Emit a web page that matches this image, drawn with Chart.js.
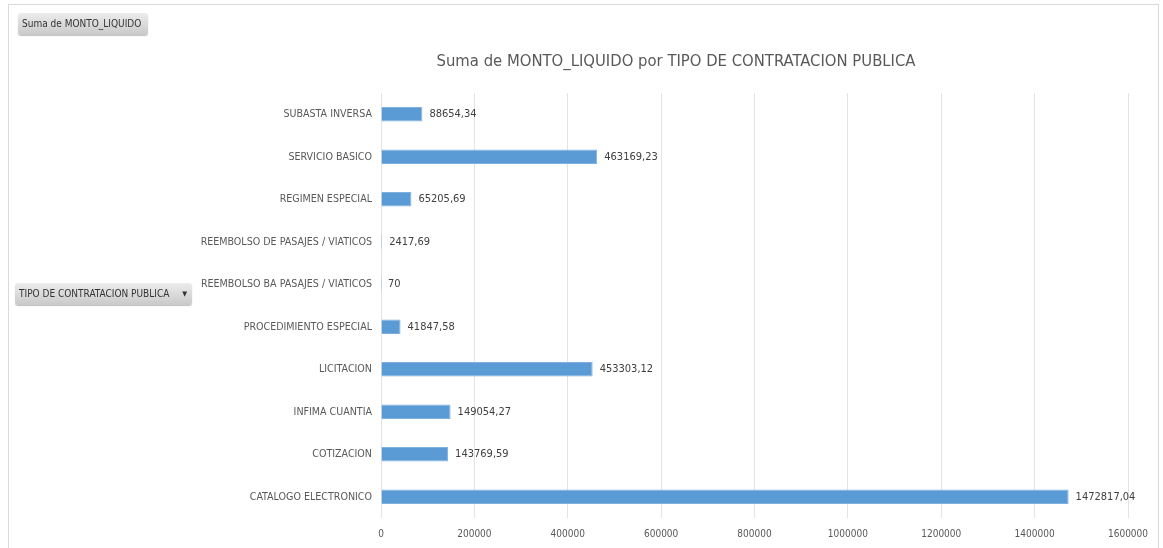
<!DOCTYPE html>
<html lang="es">
<head>
    <meta charset="UTF-8">
    <title>Suma de MONTO_LIQUIDO por TIPO DE CONTRATACION PUBLICA</title>
    <script src="https://cdn.jsdelivr.net/npm/chart.js"></script>
    <style>
        body {
            margin: 0;
            width: 1163px;
            height: 548px;
            overflow: hidden;
            background: #ffffff;
            position: relative;
            font-family: 'Liberation Sans Narrow', 'DejaVu Sans Condensed', sans-serif;
        }

        #frame {
            position: absolute;
            left: 8px;
            top: 4px;
            width: 1149px;
            height: 600px;
            border: 1px solid #d9d9d9;
        }

        #chart-container {
            position: absolute;
            left: 0;
            top: 0;
            width: 1163px;
            height: 548px;
        }

        .field-btn {
            position: absolute;
            height: 22px;
            line-height: 22px;
            font-size: 10px;
            color: #333333;
            padding-left: 4px;
            box-sizing: border-box;
            border-radius: 3px;
            background: linear-gradient(#ececec, #c9c9c9);
            box-shadow: 0 1px 1px rgba(0, 0, 0, 0.25);
            white-space: nowrap;
        }

        #btn-valor { left: 18px; top: 13px; width: 130px; }
        #btn-campo { left: 15px; top: 283px; width: 177px; }
        #btn-campo span { position: absolute; right: 5px; top: 0; font-size: 7px; }
    </style>
</head>
<body>
    <div id="frame"></div>
    <div id="chart-container">
        <canvas id="barChart"></canvas>
    </div>
    <div class="field-btn" id="btn-valor">Suma de MONTO_LIQUIDO</div>
    <div class="field-btn" id="btn-campo">TIPO DE CONTRATACION PUBLICA<span>&#9660;</span></div>

    <script>
        const FONT = "'Liberation Sans Narrow', 'DejaVu Sans Condensed', sans-serif";

        const chartTitle = 'Suma de MONTO_LIQUIDO por TIPO DE CONTRATACION PUBLICA';
        const categories = [
            'SUBASTA INVERSA',
            'SERVICIO BASICO',
            'REGIMEN ESPECIAL',
            'REEMBOLSO DE PASAJES / VIATICOS',
            'REEMBOLSO BA PASAJES / VIATICOS',
            'PROCEDIMIENTO ESPECIAL',
            'LICITACION',
            'INFIMA CUANTIA',
            'COTIZACION',
            'CATALOGO ELECTRONICO'
        ];
        const montoLiquido = [
            88654.34, 463169.23, 65205.69, 2417.69, 70,
            41847.58, 453303.12, 149054.27, 143769.59, 1472817.04
        ];
        const xTicks = [0, 200000, 400000, 600000, 800000, 1000000, 1200000, 1400000, 1600000];

        // numbers written with a decimal comma, like the original sheet
        const fmt = v => String(v).replace('.', ',');

        const barLabels = {
            id: 'barLabels',
            afterDatasetsDraw(chart) {
                const c = chart.ctx;
                const meta = chart.getDatasetMeta(0);
                c.save();
                c.font = '11px ' + FONT;
                c.fillStyle = '#404040';
                c.textAlign = 'left';
                c.textBaseline = 'middle';
                meta.data.forEach((bar, i) => {
                    c.fillText(fmt(montoLiquido[i]), bar.x + 7, bar.y);
                });
                c.restore();
            }
        };

        // the sheet's title is not centred on the canvas, so draw it here
        const titleText = {
            id: 'titleText',
            afterDraw(chart) {
                const c = chart.ctx;
                c.save();
                c.font = '16.5px ' + FONT;
                c.fillStyle = '#595959';
                c.textAlign = 'center';
                c.textBaseline = 'middle';
                c.fillText(chartTitle, 676, 62);
                c.restore();
            }
        };

        const ctx = document.getElementById('barChart').getContext('2d');

        new Chart(ctx, {
            type: 'bar',
            data: {
                labels: categories,
                datasets: [{
                    label: 'Suma de MONTO_LIQUIDO',
                    data: montoLiquido,
                    backgroundColor: '#5b9bd5',
                    borderColor: '#7fb0de',
                    borderWidth: 1,
                    categoryPercentage: 1,
                    barPercentage: 0.34
                }]
            },
            options: {
                indexAxis: 'y',
                responsive: true,
                maintainAspectRatio: false,
                animation: false,
                layout: { padding: { left: 0, right: 35, top: 93, bottom: 0 } },
                plugins: {
                    legend: { display: false },
                    tooltip: { enabled: false },
                    title: { display: false }
                },
                scales: {
                    x: {
                        min: 0,
                        max: 1600000,
                        afterBuildTicks: scale => {
                            scale.ticks = xTicks.map(v => ({ value: v }));
                        },
                        afterFit: scale => { scale.height = 30; },
                        grid: { color: '#e3e3e3', drawTicks: false },
                        border: { display: false },
                        ticks: {
                            padding: 10,
                            color: '#595959',
                            font: { family: FONT, size: 10 },
                            maxRotation: 0,
                            callback: v => String(v)
                        }
                    },
                    y: {
                        afterFit: scale => { scale.width = 381; },
                        grid: { display: false, drawTicks: false },
                        border: { display: false },
                        ticks: {
                            padding: 9,
                            color: '#595959',
                            font: { family: FONT, size: 10.6 }
                        }
                    }
                }
            },
            plugins: [barLabels, titleText]
        });
    </script>
</body>
</html>
